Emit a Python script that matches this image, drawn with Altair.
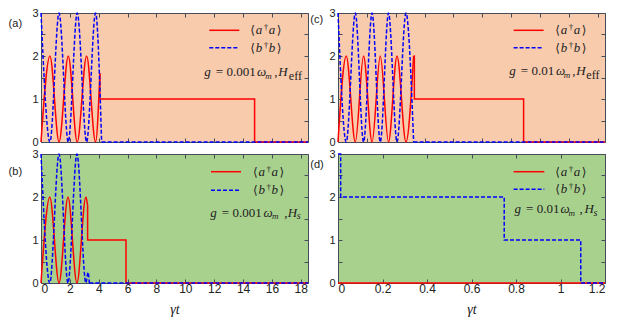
import altair as alt
import pandas as pd

RED = "#ff0000"
BLUE = "#0000ff"
FRAME = "#454c5a"
BG_EFF = "#f8cbad"
BG_S = "#a9d18e"
SANS = "Liberation Sans"
SERIF = "Liberation Serif"
INK = "#222222"

# ---------------- data ----------------
# (a) g = 0.001 w_m, H_eff
A_RED_OSC_T = [0, 0.62, 1.25, 1.89, 2.51, 3.16, 3.78, 4.08]
A_RED_OSC_V = [0, 2, 0, 2, 0, 2, 0, 1.6]
A_RED_STEP_T = [4.08, 4.08, 14.8, 14.8, 18.5]
A_RED_STEP_V = [1.6, 1.0, 1.0, 0, 0]
A_BLUE_OSC_T = [0, 0.62, 1.25, 1.89, 2.51, 3.16, 3.78, 4.2]
A_BLUE_OSC_V = [3, 0, 3, 0, 3, 0, 3, 0]
A_BLUE_STEP_T = [4.2, 18.5]
A_BLUE_STEP_V = [0, 0]

# (b) g = 0.001 w_m, H_s
B_RED_OSC_T = [0, 0.61, 1.25, 1.87, 2.49, 3.11, 3.23]
B_RED_OSC_V = [0, 2, 0, 2, 0, 2, 1.8]
B_RED_STEP_T = [3.23, 3.23, 5.89, 5.89, 18.5]
B_RED_STEP_V = [1.8, 1.0, 1.0, 0, 0]
B_BLUE_OSC_T = [0, 0.61, 1.25, 1.87, 2.49, 3.11, 3.26, 3.35]
B_BLUE_OSC_V = [3, 0, 3, 0, 3, 0, 0.25, 0]
B_BLUE_STEP_T = [3.35, 18.5]
B_BLUE_STEP_V = [0, 0]

# (c) g = 0.01 w_m, H_eff
C_RED_OSC_T = [0, 0.057, 0.12, 0.177, 0.236, 0.293, 0.35, 0.409, 0.471, 0.524]
C_RED_OSC_V = [0, 2, 0, 2, 0, 2, 0, 2, 0, 2]
C_RED_STEP_T = [0.524, 0.529, 0.529, 1.286, 1.286, 1.85]
C_RED_STEP_V = [2, 2, 1, 1, 0, 0]
C_BLUE_OSC_T = [0, 0.057, 0.12, 0.177, 0.236, 0.293, 0.35, 0.409, 0.471, 0.524]
C_BLUE_OSC_V = [3, 0, 3, 0, 3, 0, 3, 0, 3, 0]
C_BLUE_STEP_T = [0.524, 1.85]
C_BLUE_STEP_V = [0, 0]

# (d) g = 0.01 w_m, H_s
D_RED_STEP_T = [0, 1.2]
D_RED_STEP_V = [0, 0]
D_BLUE_STEP_T = [0, 0.012, 0.012, 0.747, 0.747, 1.091, 1.091, 1.2]
D_BLUE_STEP_V = [3, 3, 2, 2, 1, 1, 0, 0]

X_TICKS_LONG = [0, 2, 4, 6, 8, 10, 12, 14, 16, 18]
X_TICKS_C = [0, 0.2, 0.4, 0.6, 0.8, 1.0, 1.2, 1.4, 1.6, 1.8]
X_TICKS_SHORT = [0, 0.2, 0.4, 0.6, 0.8, 1, 1.2]
Y_TICKS = [0, 0.5, 1, 1.5, 2, 2.5, 3]

LEGEND_OPS = ["a", "b"]
PANEL_LABELS = ["(a)", "(b)", "(c)", "(d)"]
X_TITLE = "γt"

W, H = 267, 129


def build_df(parts):
    rows = []
    for name, kind, ts, vs in parts:
        for i, (t, v) in enumerate(zip(ts, vs)):
            rows.append({"s": name, "k": kind, "i": i, "t": t, "v": v})
    return pd.DataFrame(rows)


ONE = pd.DataFrame({"k": [0]})


def text_piece(txt, x, y, size, style, color=INK, font=SERIF, align="left"):
    return alt.Chart(ONE).mark_text(
        text=txt, font=font, fontSize=size, fontStyle=style, color=color,
        align=align, baseline="middle"
    ).encode(x=alt.value(x), y=alt.value(y))


def legend_label(op, x, y):
    return [
        text_piece("⟨", x, y, 12, "normal", font="DejaVu Serif"),
        text_piece(op, x + 5.5, y, 13, "italic"),
        text_piece("†", x + 13.5, y - 3, 9, "normal"),
        text_piece(op, x + 18.5, y, 13, "italic"),
        text_piece("⟩", x + 26.5, y, 12, "normal", font="DejaVu Serif"),
    ]


def panel(parts, xdom, xticks, xlabels, xfmt, bg, plabel, plabel_pos, leg, gx, gy, gparts, title=False):
    xs = alt.Scale(domain=xdom, nice=False, zero=False)
    ys = alt.Scale(domain=[0, 3], nice=False, zero=False)

    def ax_x(orient, labels):
        kw = dict(orient=orient, values=xticks, offset=-4, tickSize=4, tickColor=FRAME,
                  tickWidth=1, domain=False, grid=False, labels=labels, title=None)
        if labels:
            kw.update(labelFont=SANS, labelFontSize=12, labelColor=INK, labelPadding=0,
                      labelExpr=f"format(datum.value, '{xfmt}')")
            if title:
                kw.update(title=X_TITLE, titleFont=SERIF, titleFontStyle="italic",
                          titleFontWeight="normal", titleFontSize=14, titlePadding=8,
                          titleColor=INK)
        return alt.Axis(**kw)

    def ax_y(orient, labels):
        kw = dict(orient=orient, values=Y_TICKS, offset=-4, tickSize=4, tickColor=FRAME,
                  tickWidth=1, domain=False, grid=False, labels=labels, title=None)
        if labels:
            kw.update(labelFont=SANS, labelFontSize=11, labelColor=INK, labelPadding=3,
                      labelExpr="datum.value % 1 == 0 ? format(datum.value, 'd') : ''")
        return alt.Axis(**kw)

    df = build_df(parts)
    layers = []
    order = [("red", "osc"), ("red", "step"), ("blue", "osc"), ("blue", "step")]
    n = 0
    for s, k in order:
        sub = df[(df.s == s) & (df.k == k)]
        if len(sub) == 0:
            continue
        mk = dict(color=RED if s == "red" else BLUE, strokeWidth=1.5,
                  interpolate="monotone" if k == "osc" else "linear")
        if s == "blue":
            mk["strokeDash"] = [4, 2]
        if n == 0:
            xa, ya = ax_x("bottom", xlabels), ax_y("left", True)
        elif n == 1:
            xa, ya = ax_x("top", False), ax_y("right", False)
        else:
            xa = ya = None
        layers.append(
            alt.Chart(sub).mark_line(**mk).encode(
                x=alt.X("t:Q", scale=xs, axis=xa),
                y=alt.Y("v:Q", scale=ys, axis=ya),
                order=alt.Order("i:Q"),
            )
        )
        n += 1

    # legend
    lx0, lx1, ly_red, ly_blue, ltx = leg
    layers.append(alt.Chart(ONE).mark_rule(color=RED, strokeWidth=1.5).encode(
        x=alt.value(lx0), x2=alt.value(lx1), y=alt.value(ly_red)))
    layers.append(alt.Chart(ONE).mark_rule(color=BLUE, strokeWidth=1.5, strokeDash=[4, 2]).encode(
        x=alt.value(lx0), x2=alt.value(lx1), y=alt.value(ly_blue)))
    layers += legend_label(LEGEND_OPS[0], ltx, ly_red)
    layers += legend_label(LEGEND_OPS[1], ltx, ly_blue)
    for txt, dx, dy, size, style in gparts:
        layers.append(text_piece(txt, gx + dx, gy + dy, size, style))

    # panel label
    layers.append(text_piece(plabel, plabel_pos[0], plabel_pos[1], 11, "normal", font=SANS))

    return alt.layer(*layers).resolve_axis(x="independent", y="independent").properties(
        width=W, height=H,
        view=alt.ViewBackground(fill=bg, stroke=FRAME, strokeWidth=1),
    )


G_A = [("g", 0, 0, 13, "italic"), ("= 0.001", 11.5, 0, 13, "normal"), ("ω", 52.7, 0, 13, "italic"),
       ("m", 61, 3.5, 9, "italic"), (",", 70, 0, 13, "normal"), ("H", 74, 0, 13, "italic"),
       ("eff", 84.5, 3.5, 12, "normal")]
G_C = [("g", 0, 0, 13, "italic"), ("= 0.01", 11.5, 0, 13, "normal"), ("ω", 46.7, 0, 13, "italic"),
       ("m", 54.5, 3.5, 9, "italic"), (",", 63, 0, 13, "normal"), ("H", 67, 0, 13, "italic"),
       ("eff", 77, 3.5, 12, "normal")]
G_B = [("g", 0, 0, 13, "italic"), ("= 0.001", 11.5, 0, 13, "normal"), ("ω", 53.3, 0, 13, "italic"),
       ("m", 61.7, 3.5, 9, "italic"), (",", 74, 0, 13, "normal"), ("H", 77.5, 0, 13, "italic"),
       ("s", 86.5, 3.5, 10, "italic")]
G_D = [("g", 0, 0, 13, "italic"), ("= 0.01", 11.5, 0, 13, "normal"), ("ω", 46, 0, 13, "italic"),
       ("m", 54, 3.5, 9, "italic"), (",", 65, 0, 13, "normal"), ("H", 70, 0, 13, "italic"),
       ("s", 79, 3.5, 10, "italic")]

pa = panel([("red", "osc", A_RED_OSC_T, A_RED_OSC_V), ("red", "step", A_RED_STEP_T, A_RED_STEP_V),
            ("blue", "osc", A_BLUE_OSC_T, A_BLUE_OSC_V), ("blue", "step", A_BLUE_STEP_T, A_BLUE_STEP_V)],
           [0, 18.5], X_TICKS_LONG, False, "d", BG_EFF, PANEL_LABELS[0], (-32.4, 10.5),
           (168.3, 198.3, 17.3, 34.7, 209.3), 163.3, 59, G_A)
pb = panel([("red", "osc", B_RED_OSC_T, B_RED_OSC_V), ("red", "step", B_RED_STEP_T, B_RED_STEP_V),
            ("blue", "osc", B_BLUE_OSC_T, B_BLUE_OSC_V), ("blue", "step", B_BLUE_STEP_T, B_BLUE_STEP_V)],
           [0, 18.5], X_TICKS_LONG, True, "d", BG_S, PANEL_LABELS[1], (-32.4, 18),
           (170, 200, 17.7, 36.3, 212), 169.3, 58.7, G_B, title=True)
pc = panel([("red", "osc", C_RED_OSC_T, C_RED_OSC_V), ("red", "step", C_RED_STEP_T, C_RED_STEP_V),
            ("blue", "osc", C_BLUE_OSC_T, C_BLUE_OSC_V), ("blue", "step", C_BLUE_STEP_T, C_BLUE_STEP_V)],
           [0, 1.85], X_TICKS_C, False, "~g", BG_EFF, PANEL_LABELS[2], (-27.7, 7),
           (175.6, 205.6, 17.3, 34.7, 217.3), 171.3, 58, G_C)
pd_ = panel([("red", "step", D_RED_STEP_T, D_RED_STEP_V), ("blue", "step", D_BLUE_STEP_T, D_BLUE_STEP_V)],
            [0, 1.2], X_TICKS_SHORT, True, "~g", BG_S, PANEL_LABELS[3], (-27.7, 11),
            (175.6, 206.3, 17.7, 35.3, 217.3), 176.6, 55.3, G_D, title=True)

chart = alt.concat(pa, pc, pb, pd_, columns=2, spacing={"row": 12, "column": 30},
                   bounds="flush").properties(
    padding={"left": 0, "top": -2, "right": 0, "bottom": 0},
    background="white",
)

chart.save("out.html", embed_options={"renderer": "svg", "actions": False})
